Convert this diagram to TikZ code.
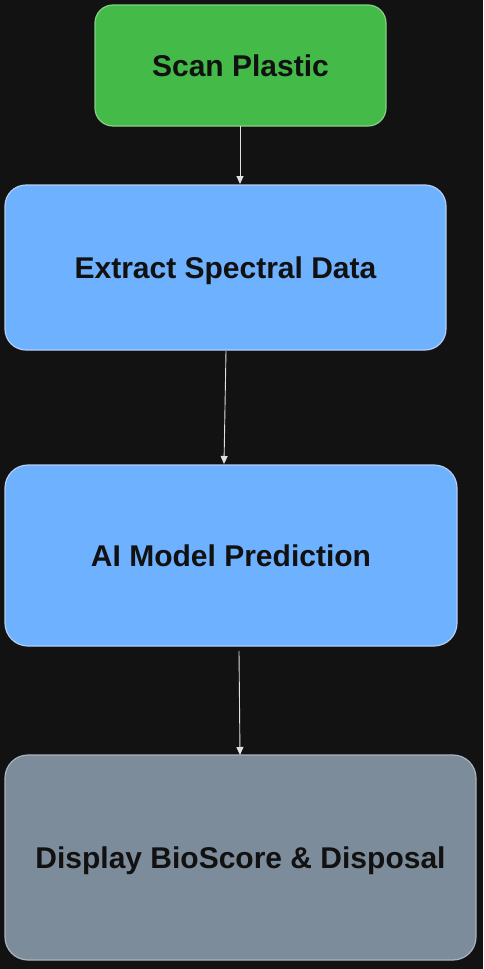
\documentclass[tikz,border=0pt]{standalone}
\usepackage{fontspec}
\setmainfont{Liberation Sans}
\usetikzlibrary{arrows.meta}
\definecolor{bg}{HTML}{121212}
\definecolor{gfill}{HTML}{44BB48}
\definecolor{gline}{HTML}{86CF86}
\definecolor{bfill}{HTML}{6DB1FF}
\definecolor{bline}{HTML}{B4CDF5}
\definecolor{sfill}{HTML}{7D8C9A}
\definecolor{sline}{HTML}{A9B4BF}
\definecolor{txt}{HTML}{111111}
\definecolor{arr}{HTML}{E0E0E0}
\tikzset{
  box/.style={rectangle, rounded corners=21pt, line width=1.2pt, inner sep=0pt,
    text height=26pt, text depth=4pt,
    font=\fontsize{30pt}{34pt}\selectfont\bfseries, text=txt},
  flow/.style={draw=arr, line width=0.9pt, -{Triangle[width=7pt,length=8pt]}}
}
\begin{document}
\begin{tikzpicture}[x=1pt,y=-1pt]
\fill[bg] (0,0) rectangle (483,969);
\useasboundingbox (0,0) rectangle (483,969);
\node[box, fill=gfill, draw=gline, minimum width=291pt, minimum height=121pt, rounded corners=18pt] (b1) at (240.5,65.5) {Scan Plastic};
\node[box, fill=bfill, draw=bline, minimum width=441pt, minimum height=165pt] (b2) at (225.5,267.5) {Extract Spectral Data};
\node[box, fill=bfill, draw=bline, minimum width=452pt, minimum height=181pt, rounded corners=23pt] (b3) at (231,555.5) {AI Model Prediction};
\node[box, fill=sfill, draw=sline, minimum width=471pt, minimum height=205pt, rounded corners=23pt] (b4) at (240.5,857.5) {Display BioScore \& Disposal};
\coordinate (s1) at (240,126);
\coordinate (e1) at (240,184);
\coordinate (s2) at (226,351);
\coordinate (e2) at (224,464);
\coordinate (s3) at (239,651);
\coordinate (e3) at (240,755);
\draw[flow] (s1) -- (e1);
\draw[flow] (s2) -- (e2);
\draw[flow] (s3) -- (e3);
\end{tikzpicture}
\end{document}
